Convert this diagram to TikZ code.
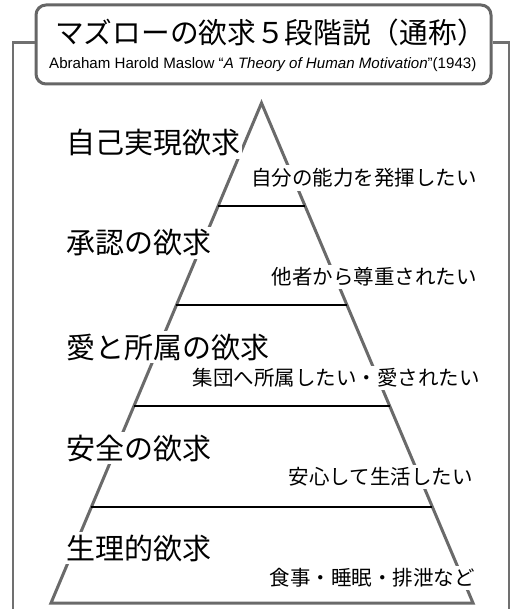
\documentclass[tikz,border=0pt]{standalone}
\usepackage{fontspec}
\newfontfamily\jp{Noto Sans CJK JP}
\newfontfamily\en{Liberation Sans}
\definecolor{sidegray}{HTML}{6A6A6A}
\definecolor{boxgray}{HTML}{666666}
\definecolor{framegray}{HTML}{707070}
\tikzset{
  side/.style={draw=sidegray, line width=3pt, line join=miter},
  tier/.style={draw=black, line width=2.5pt},
  frameline/.style={draw=framegray, line width=2.5pt},
  titlebox/.style={draw=boxgray, line width=3pt, rounded corners=10pt, minimum width=455pt, minimum height=79pt, inner sep=0pt},
  titletext/.style={font=\jp\fontsize{28.7}{28.7}\selectfont, anchor=west, inner sep=0pt},
  subtext/.style={font=\en\fontsize{15.1}{15.1}\selectfont, anchor=west, inner sep=0pt},
  biglabel/.style={font=\jp\fontsize{29}{29}\selectfont, fill=white, inner xsep=2pt, inner ysep=3pt, anchor=west},
  smalllabel/.style={font=\jp\fontsize{20.5}{20.5}\selectfont, fill=white, inner xsep=2pt, inner ysep=3pt, anchor=east},
}
\begin{document}
\begin{tikzpicture}[x=1pt,y=-1pt]
\clip (0,0) rectangle (518,609);
\fill[white] (0,0) rectangle (518,609);
% pyramid
\coordinate (apex) at (261.5,103);
\coordinate (bl) at (51,603);
\coordinate (br) at (473,603);
\draw[side] (apex) -- (bl) -- (br) -- cycle;
\foreach \y [count=\i] in {206,305,406,507} {
  \coordinate (l\i) at (intersection of apex--bl and 0,\y--10,\y);
  \coordinate (r\i) at (intersection of apex--br and 0,\y--10,\y);
  \draw[tier] (l\i) -- (r\i);
}
% title box and frame
\node[titlebox] (tbox) at (263.5,44.5) {};
\coordinate (fl) at (13,42.5);
\coordinate (flb) at (13,615);
\coordinate (fr) at (509,42.5);
\coordinate (frb) at (509,615);
\draw[frameline] (tbox.west |- fl) -- (fl) -- (flb);
\draw[frameline] (tbox.east |- fr) -- (fr) -- (frb);
\node[titletext] (title) at (55,33) {マズローの欲求５段階説（通称）};
\node[subtext] (sub) at (49,65) {Abraham Harold Maslow “\textit{A Theory of Human Motivation}”(1943)};
% labels
\node[biglabel] (n1) at (64,143) {自己実現欲求};
\node[smalllabel] (d1) at (479,178) {自分の能力を発揮したい};
\node[biglabel] (n2) at (64,243) {承認の欲求};
\node[smalllabel] (d2) at (479,277) {他者から尊重されたい};
\node[biglabel] (n3) at (64,347) {愛と所属の欲求};
\node[smalllabel] (d3) at (482,378) {集団へ所属したい・愛されたい};
\node[biglabel] (n4) at (64,448) {安全の欲求};
\node[smalllabel] (d4) at (475,477) {安心して生活したい};
\node[biglabel] (n5) at (64,548) {生理的欲求};
\node[smalllabel] (d5) at (477,578) {食事・睡眠・排泄など};
\end{tikzpicture}
\end{document}
